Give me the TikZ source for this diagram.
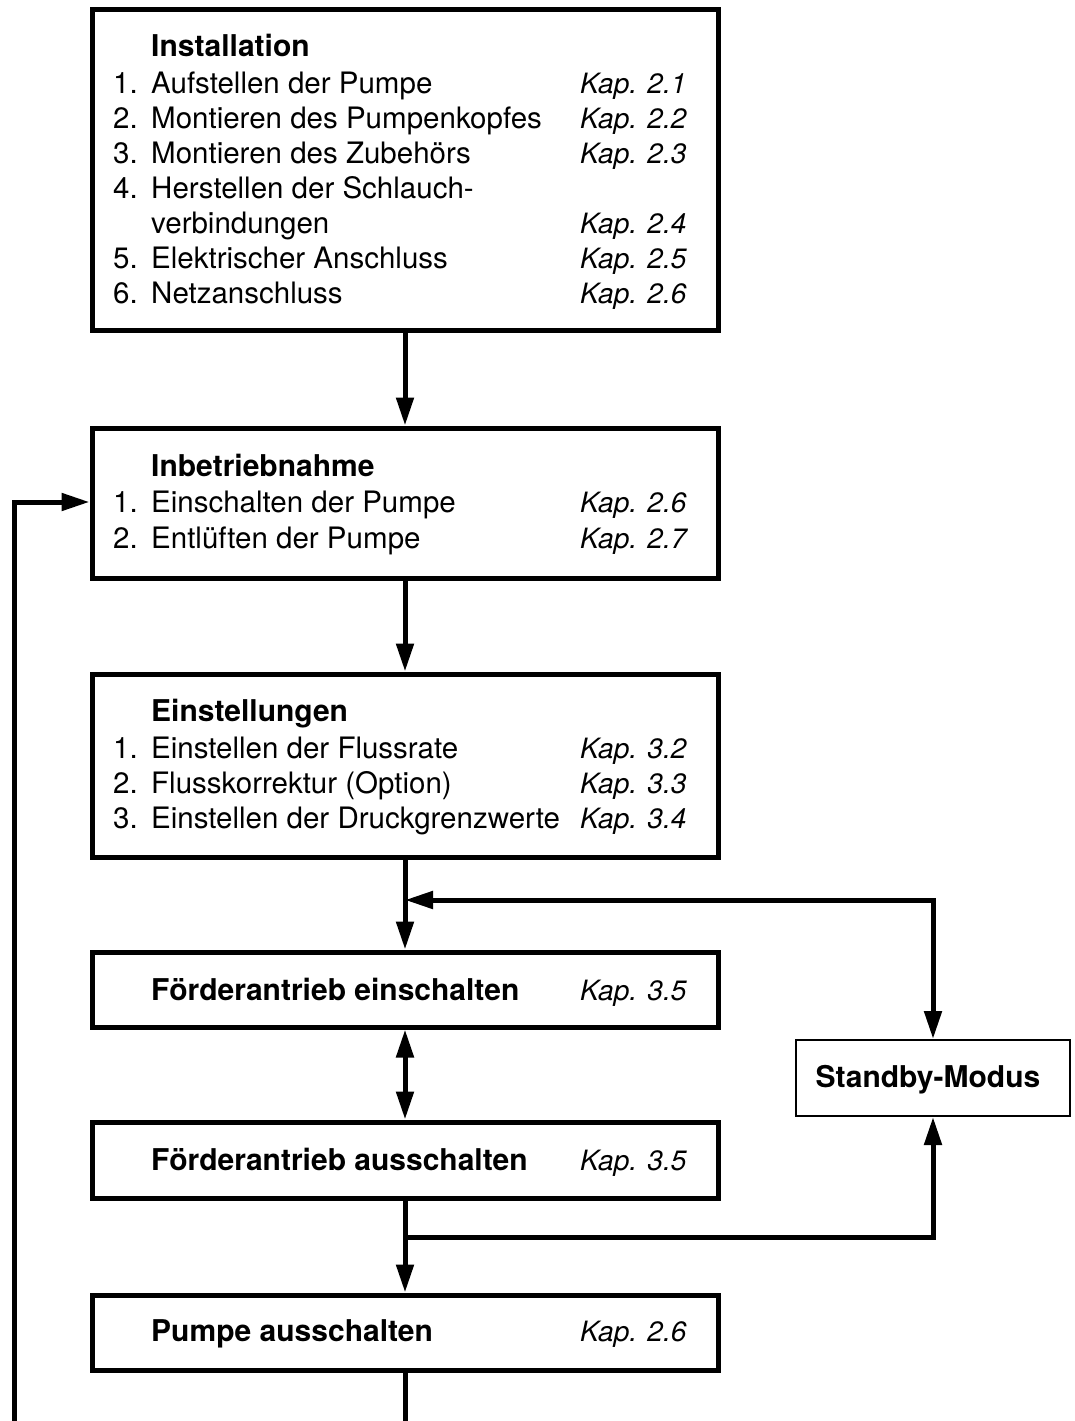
\documentclass[tikz,border=0pt]{standalone}
\usepackage{fontspec}
\setmainfont{TeX Gyre Heros}
\usetikzlibrary{arrows.meta}
\begin{document}
\begin{tikzpicture}[x=1pt,y=-1pt,
  box/.style={draw, line width=5pt, inner sep=0pt, minimum width=626pt},
  sbox/.style={draw, line width=2pt, inner sep=0pt, minimum width=274pt, minimum height=76pt},
  txt/.style={anchor=base west, inner sep=0pt, font=\fontsize{29.5}{34}\selectfont},
  ttl/.style={txt, font=\fontsize{30}{34}\selectfont\bfseries},
  kap/.style={txt, font=\fontsize{28}{34}\selectfont\itshape},
  conn/.style={line width=5pt},
  arr/.style={conn, -{Triangle[length=28pt,width=17pt]}},
  arrboth/.style={conn, {Triangle[length=28pt,width=17pt]}-{Triangle[length=28pt,width=17pt]}}
]
\useasboundingbox (0,0) rectangle (1074,1421);
\fill[white] (0,0) rectangle (1074,1421);

% boxes
\node[box, minimum height=320pt] (inst) at (405,170) {};
\node[box, minimum height=150pt] (inb) at (405,503) {};
\node[box, minimum height=183pt] (einst) at (405,765.5) {};
\node[box, minimum height=75pt] (fein) at (405,989.5) {};
\node[box, minimum height=76pt] (faus) at (405,1160) {};
\node[box, minimum height=75pt] (paus) at (405,1332.5) {};
\node[sbox] (standby) at (933,1078) {};
\node[anchor=base, inner sep=0pt, font=\fontsize{30}{34}\selectfont\bfseries] (tsb) at (928,1087) {Standby-Modus};

% Installation texts
\node[ttl] (i0) at (151,57) {Installation};
\node[txt] (i1n) at (113,93) {1.};
\node[txt] (i1) at (151,93) {Aufstellen der Pumpe};
\node[kap] (i1k) at (580,93) {Kap. 2.1};
\node[txt] (i2n) at (113,128) {2.};
\node[txt] (i2) at (151,128) {Montieren des Pumpenkopfes};
\node[kap] (i2k) at (580,128) {Kap. 2.2};
\node[txt] (i3n) at (113,163) {3.};
\node[txt] (i3) at (151,163) {Montieren des Zubehörs};
\node[kap] (i3k) at (580,163) {Kap. 2.3};
\node[txt] (i4n) at (113,198) {4.};
\node[txt] (i4) at (151,198) {Herstellen der Schlauch-};
\node[txt] (i4b) at (151,233) {verbindungen};
\node[kap] (i4k) at (580,233) {Kap. 2.4};
\node[txt] (i5n) at (113,268) {5.};
\node[txt] (i5) at (151,268) {Elektrischer Anschluss};
\node[kap] (i5k) at (580,268) {Kap. 2.5};
\node[txt] (i6n) at (113,303) {6.};
\node[txt] (i6) at (151,303) {Netzanschluss};
\node[kap] (i6k) at (580,303) {Kap. 2.6};

% Inbetriebnahme texts
\node[ttl] (b0) at (151,476) {Inbetriebnahme};
\node[txt] (b1n) at (113,512) {1.};
\node[txt] (b1) at (151,512) {Einschalten der Pumpe};
\node[kap] (b1k) at (580,512) {Kap. 2.6};
\node[txt] (b2n) at (113,548) {2.};
\node[txt] (b2) at (151,548) {Entlüften der Pumpe};
\node[kap] (b2k) at (580,548) {Kap. 2.7};

% Einstellungen texts
\node[ttl] (e0) at (151,721) {Einstellungen};
\node[txt] (e1n) at (113,758) {1.};
\node[txt] (e1) at (151,758) {Einstellen der Flussrate};
\node[kap] (e1k) at (580,758) {Kap. 3.2};
\node[txt] (e2n) at (113,793) {2.};
\node[txt] (e2) at (151,793) {Flusskorrektur (Option)};
\node[kap] (e2k) at (580,793) {Kap. 3.3};
\node[txt] (e3n) at (113,828) {3.};
\node[txt] (e3) at (151,828) {Einstellen der Druckgrenzwerte};
\node[kap] (e3k) at (580,828) {Kap. 3.4};

% single-line boxes
\node[ttl] (f0) at (151,1000) {Förderantrieb einschalten};
\node[kap] (f0k) at (580,1000) {Kap. 3.5};
\node[ttl] (a0) at (151,1170) {Förderantrieb ausschalten};
\node[kap] (a0k) at (580,1170) {Kap. 3.5};
\node[ttl] (p0) at (151,1341) {Pumpe ausschalten};
\node[kap] (p0k) at (580,1341) {Kap. 2.6};

% connectors
\coordinate (j1) at (405,900);
\coordinate (j2) at (405,1237);
\coordinate (bot) at (405,1421);
\coordinate (lb) at (14,1421);
\coordinate (lin) at (92,502);

\draw[arr] (inst) -- (inb);
\draw[arr] (inb) -- (einst);
\draw[arr] (einst) -- (fein);
\draw[arrboth] (j1) -| (standby);
\draw[arrboth] (fein) -- (faus);
\draw[arr] (faus) -- (paus);
\draw[arr] (j2) -| (standby);
\draw[conn] (paus) -- (bot);
\draw[arr] (lb) |- (inb.west |- lin);
\end{tikzpicture}
\end{document}
